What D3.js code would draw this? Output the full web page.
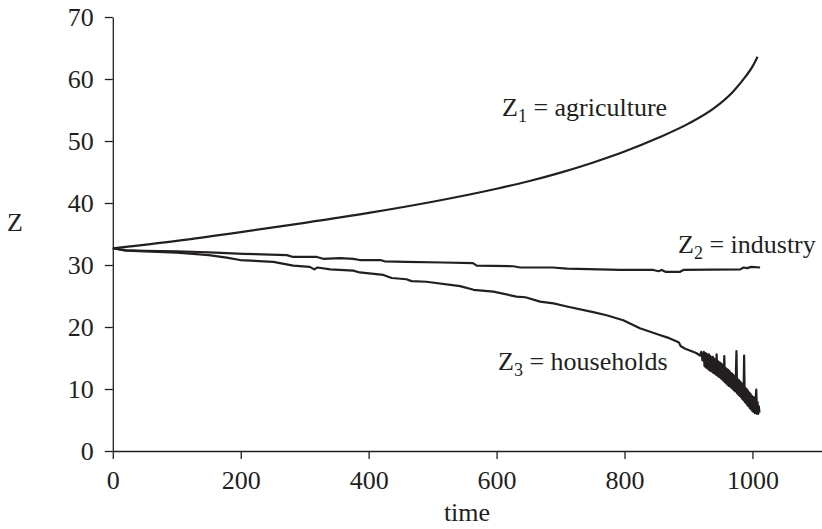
<!DOCTYPE html>
<html>
<head>
<meta charset="utf-8">
<script src="https://cdn.jsdelivr.net/npm/d3@7"></script>
<style>
  body { margin: 0; background: #fff; }
  svg text { font-family: "Liberation Serif", "Times New Roman", serif; fill: #231f20; }
</style>
</head>
<body>
<svg id="chart" width="822" height="529"></svg>
<script>
// tick labels
const xTicks = [0, 200, 400, 600, 800, 1000]
const yTicks = [0, 10, 20, 30, 40, 50, 60, 70]

// Z1 = agriculture
const agriTime = [0, 100, 200, 300, 400, 500, 600, 650, 700, 750, 800, 850, 900, 940, 970, 990, 1000, 1008]
const agriZ = [32.7, 33.9, 35.3, 36.8, 38.4, 40.2, 42.3, 43.5, 44.9, 46.5, 48.3, 50.4, 52.8, 55.3, 58.0, 60.5, 62.0, 63.6]

// Z2 = industry
const indTime = [0, 20, 50, 100, 136, 160, 204, 272, 282, 319, 329, 355, 376, 386, 418, 425, 459, 516, 563, 569,
  626, 637, 688, 710, 760, 793, 845, 853, 858, 864, 887, 892, 981, 986, 992, 998, 1012]
const indZ = [32.7, 32.4, 32.3, 32.2, 32.1, 32.0, 31.8, 31.6, 31.3, 31.3, 31.0, 31.1, 31.0, 30.8, 30.8, 30.6, 30.5, 30.4, 30.3, 29.9,
  29.8, 29.6, 29.6, 29.4, 29.3, 29.2, 29.2, 29.0, 29.2, 28.9, 28.9, 29.2, 29.3, 29.6, 29.5, 29.7, 29.6]

// Z3 = households (smooth part, then the noisy tail read step by step)
const houseTime = [0, 20, 50, 100, 150, 178, 199, 251, 282, 308, 315, 320, 340, 376, 386, 423, 436, 459, 467, 490,
  543, 564, 595, 631, 645, 668, 689, 710, 751, 772, 798, 824, 855, 870, 881, 885, 888, 895, 905, 912,
  918, 920, 922,
  924, 925, 926, 927, 928, 929, 930, 931, 932, 933, 934, 935, 936, 937, 938, 939, 940, 941, 942, 943,
  944, 945, 946, 947, 948, 949, 950, 951, 952, 953, 954, 955, 956, 957, 958, 959, 960, 961, 962, 963,
  964, 965, 966, 967, 968, 969, 970, 971, 972, 973, 974, 975, 976, 977, 978, 979, 980, 981, 982, 983,
  984, 985, 986, 987, 988, 989, 990, 991, 992, 993, 994, 995, 996, 997, 998, 999, 1000, 1001, 1002, 1003,
  1004, 1005, 1006, 1007, 1008, 1009, 1010, 1011]
const houseZ = [32.7, 32.3, 32.2, 32.0, 31.6, 31.2, 30.8, 30.5, 29.9, 29.7, 29.3, 29.6, 29.3, 29.1, 28.8, 28.4, 27.9, 27.7, 27.4, 27.3,
  26.6, 26.0, 25.7, 24.9, 24.8, 24.1, 23.8, 23.3, 22.4, 21.9, 21.1, 19.8, 18.7, 18.2, 17.7, 17.5, 16.9, 16.5, 16.1, 15.8,
  15.4, 16.0, 14.6,
  16.0, 13.7, 15.8, 13.5, 15.7, 13.4, 15.5, 13.2, 15.6, 13.0, 15.3, 12.9, 15.1, 12.8, 15.2, 12.6, 14.9, 12.5, 14.7, 12.3,
  15.6, 12.2, 14.5, 12.0, 14.3, 11.9, 14.2, 11.7, 14.0, 11.5, 13.8, 11.3, 15.3, 11.1, 13.4, 10.9, 13.2, 10.7, 13.1, 10.5,
  12.9, 10.4, 12.6, 10.2, 12.5, 10.0, 12.3, 9.8, 12.0, 9.6, 11.9, 16.1, 9.3, 11.6, 9.1, 11.4, 8.9, 11.2, 8.7, 10.9,
  8.4, 10.7, 8.2, 15.4, 7.9, 10.2, 7.7, 10.0, 7.4, 9.7, 7.2, 9.4, 6.9, 9.2, 6.7, 8.9, 6.4, 8.7, 6.3, 8.6,
  6.1, 8.4, 9.9, 6.0, 7.9, 6.0, 7.2, 6.2]

const series = [
  { t: agriTime, z: agriZ, curve: d3.curveMonotoneX },
  { t: indTime, z: indZ, curve: d3.curveLinear },
  { t: houseTime, z: houseZ, curve: d3.curveLinear }
]

const INK = '#231f20'
const FONT = 26
const svg = d3.select('#chart')

// scales
const scaleX = d3.scaleLinear().domain([0, 1110]).range([112.8, 822.8])
const scaleY = d3.scaleLinear().domain([0, 70]).range([451, 17])

/**
 * @Axes
 */
svg.append('g')
  .attr('transform', `translate(0,${scaleY(0)})`)
  .call(d3.axisBottom(scaleX).tickValues(xTicks).tickFormat(d3.format('d')).tickSize(8).tickSizeOuter(0).tickPadding(12))
svg.append('g')
  .attr('transform', `translate(${scaleX(0)},0)`)
  .call(d3.axisLeft(scaleY).tickValues(yTicks).tickSize(8).tickSizeOuter(0).tickPadding(11))

svg.selectAll('.domain, .tick line').attr('stroke', INK).attr('stroke-width', 1.3)
svg.selectAll('.tick text').attr('font-size', FONT).attr('fill', INK)

svg.append('text').attr('x', 467).attr('y', 521).attr('text-anchor', 'middle').attr('font-size', FONT).text('time')
svg.append('text').attr('x', 15).attr('y', 231).attr('text-anchor', 'middle').attr('font-size', FONT).text('Z')

/**
 * @Lines
 */
svg.append('g')
  .selectAll('path')
  .data(series)
  .enter()
  .append('path')
  .attr('d', s => d3.line().curve(s.curve)
    .x(d => scaleX(d[0]))
    .y(d => scaleY(d[1]))(s.t.map((t, i) => [t, s.z[i]])))
  .attr('fill', 'none')
  .attr('stroke', INK)
  .attr('stroke-width', 2.2)
  .attr('stroke-linejoin', 'round')

/**
 * @Labels
 */
function seriesLabel(x, y, sub, rest) {
  const t = svg.append('text').attr('x', x).attr('y', y).attr('font-size', FONT)
  t.append('tspan').text('Z')
  t.append('tspan').attr('font-size', 18).attr('dy', 6).text(sub)
  t.append('tspan').attr('dy', -6).text(' = ' + rest)
}
seriesLabel(502, 116, '1', 'agriculture')
seriesLabel(678, 253, '2', 'industry')
seriesLabel(498, 370, '3', 'households')
</script>
</body>
</html>
